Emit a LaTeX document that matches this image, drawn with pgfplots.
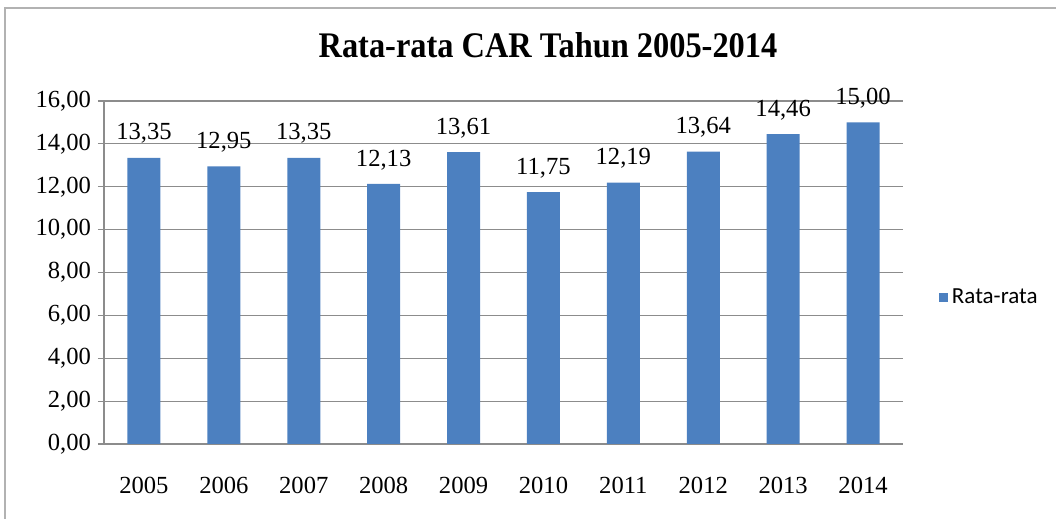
\documentclass[border=0pt]{standalone}
\usepackage{pgfplots}
\pgfplotsset{compat=1.18}
\usepackage{fontspec}
\setmainfont{Liberation Serif}
\newfontfamily\titlefont{Liberation Serif}[FakeStretch=0.9]
\newfontfamily\legfont{Carlito}
\definecolor{barblue}{RGB}{76,128,192}
\definecolor{gridgray}{RGB}{140,140,140}
\begin{document}
\begin{tikzpicture}
\path[use as bounding box] (0,0) rectangle (528pt,259.5pt);
\draw[gray!60, line width=0.8pt] (2.5pt,-5pt) rectangle (540pt,255.5pt);
\node[font=\titlefont\bfseries\fontsize{18}{20}\selectfont] at (274pt,237pt) {Rata-rata CAR Tahun 2005-2014};
\begin{axis}[
  at={(52pt,37.5pt)}, anchor=south west,
  scale only axis, width=399.5pt, height=171.5pt,
  ybar, bar width=16.5pt,
  xmin=0.5, xmax=10.5, ymin=0, ymax=16,
  ytick={0,2,...,16},
  xtick={1,...,10},
  xticklabels={2005,2006,2007,2008,2009,2010,2011,2012,2013,2014},
  minor xtick={0.5,1.5,...,10.5},
  xtick style={draw=none},
  minor x tick style={gridgray, line width=0.6pt},
  ytick style={gridgray, line width=0.6pt},
  tick align=outside,
  major tick length=3pt, minor tick length=3.5pt,
  ymajorgrids, grid style={gridgray, line width=0.6pt},
  axis x line*=bottom, axis y line*=left,
  axis line style={gridgray, line width=0.8pt, -},
  tick label style={font=\fontsize{12.3}{14}\selectfont, text=black},
  xticklabel style={yshift=-10pt},
  /pgf/number format/fixed,
  /pgf/number format/fixed zerofill,
  /pgf/number format/precision=2,
  /pgf/number format/use comma,
  /pgf/number format/assume math mode=true,
  nodes near coords,
  nodes near coords style={font=\fontsize{12.3}{14}\selectfont, text=black, yshift=3.5pt},
  legend style={at={(1.037,0.426)}, anchor=west, draw=none, fill=none,
    font=\legfont\fontsize{11.5}{13}\selectfont},
  legend image code/.code={\fill[barblue] (0pt,-2.3pt) rectangle (4.5pt,2.3pt);},
]
\addplot[fill=barblue, draw=none] coordinates {
(1,13.35) (2,12.95) (3,13.35) (4,12.13) (5,13.61)
(6,11.75) (7,12.19) (8,13.64) (9,14.46) (10,15.00)};
\addlegendentry{Rata-rata}
\end{axis}
\end{tikzpicture}
\end{document}
